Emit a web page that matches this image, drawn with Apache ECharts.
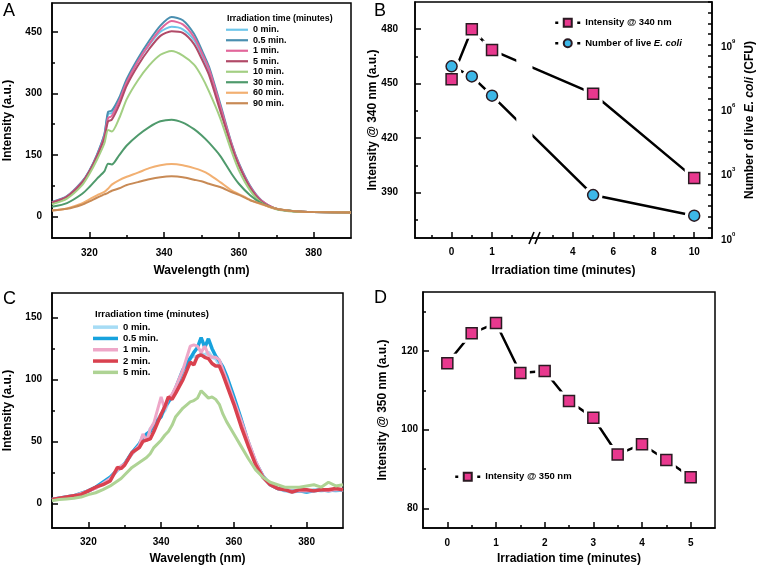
<!DOCTYPE html>
<html>
<head>
<meta charset="utf-8">
<script src="https://cdn.jsdelivr.net/npm/echarts@6/dist/echarts.min.js"></script>
<style>html,body{margin:0;padding:0;background:#fff}#main{width:757px;height:568px}</style>
</head>
<body>
<div id="main"></div>
<script>
// panel A: emission spectra, 340 nm region
var aWave = [310,314,318,320,322,324,325,326,328,330,333,336,339,342,345,348,350,352,355,358,360,363,366,370,375,380,390];
var aNames = ['0 min.','0.5 min.','1 min.','5 min.','10 min.','30 min.','60 min.','90 min.'];
var aColors = ['#6ec6ea','#4a8fb0','#e2679b','#b14a68','#a3cf83','#4f9a6c','#f2b072','#c88a55'];
var a0  = [35,49,83,112,150,200,250,252,285,331,378,418,450,462,456,430,395,355,265,176,127,72,38,19,13,11,10];
var a05 = [36,50,85,112,150,200,255,258,290,335,385,428,465,486,478,445,407,365,275,180,130,75,40,19,13,11,10];
var a1  = [35,49,83,110,147,195,240,245,282,327,378,420,456,476,468,437,400,360,270,178,128,73,39,19,13,11,10];
var a5  = [34,48,82,110,146,190,232,236,272,319,368,408,440,451,447,420,385,345,258,172,124,70,37,19,13,11,10];
var a10 = [30,44,76,104,138,178,211,207,240,286,332,368,394,403,392,370,342,305,240,160,113,64,34,18,12,11,10];
var a30 = [24,33,55,72,92,110,129,127,150,173,198,218,232,236,229,213,198,180,148,105,80,52,33,19,13,11,10];
var a60 = [15,20,32,42,52,60,68,78,89,97,107,118,125,128,125,118,112,103,84,64,55,41,30,19,13,11,10];
var a90 = [15,19,29,37,46,54,58,63,69,77,84,91,96,98,96,90,86,80,72,60,53,40,31,19,13,11,10];
var aSeries = [a0,a05,a1,a5,a10,a30,a60,a90];

// panel B: intensity @ 340 nm and live E. coli
var bTime = [0,0.5,1,5,10];
var bIntensity = [452.5,480,468.5,444.5,398];
var bEcoli = [1e8,3.4e7,4.3e6,1.0e2,11];

// panel C: emission spectra, 350 nm region
var cWave = [310,312,314,316,318,320,322,324,326,328,329,330,332,334,335,336,337,338,340,341,342,343,344,346,348,349,350,351,352,353,354,355,356,357,358,360,362,364,366,368,370,372,374,376,378,380,382,384,386,388,390];
var cNames = ['0 min.','0.5 min.','1 min.','2 min.','5 min.'];
var cColors = ['#a6dcf5','#17a2dd','#eea7c8','#d9414f','#aed394'];
var cWidths = [3.5,3.5,3,3.5,3];
var c0  = [3,4,5,6,8,10,13,16,20,27,30,32,40,47,55,52,60,63,72,75,82,85,92,104,118,119,118,121,120,122,118,117,112,105,100,82,66,48,32,21,15,12,10,9,10,9,11,10,11,10,11];
var c05 = [3,4,5,6,8,10,13,17,21,27,29,32,41,48,53,56,58,64,70,78,82,87,93,108,117,122,126,134,126,133,125,119,115,110,103,86,68,49,33,22,15,12,11,10,10,9,10,11,10,11,11];
var c1  = [3,4,5,6,8,10,12,16,20,27,30,32,40,47,56,50,60,65,86,76,85,88,94,108,127,128,127,122,127,120,118,118,116,108,100,83,67,50,34,22,15,12,11,10,10,10,10,11,10,11,11];
var c2  = [3,4,5,6,7,10,13,15,18,29,28,31,41,45,50,51,52,58,72,78,86,84,89,100,114,112,119,120,118,117,113,111,111,104,96,80,62,46,31,21,15,12,11,9,11,11,10,11,11,12,11];
var c5  = [2,3,3.5,4,5,7,8.5,11,14,18,20,23,29,33,35,37,40,45,51,55,58,63,70,77,82,83,85,91,88,85,86,84,80,72,66,56,46,36,27,21,17,15,13,13,13,14,15,13,17,14,15];
var cSeries = [c0,c05,c1,c2,c5];

// panel D: intensity @ 350 nm
var dTime = [0,0.5,1,1.5,2,2.5,3,3.5,4,4.5,5];
var dIntensity = [116.9,124.5,127.1,114.4,114.9,107.3,103.0,93.7,96.3,92.3,87.9];

var F = '"Liberation Sans", Arial, sans-serif';
var myChart = echarts.init(document.getElementById('main'));

// broken time axis of panel B: 0-1 min stretched, 4-10 min compressed
function bPos(t) { return t <= 1 ? t * 2 : t + 2; }
function bTimeOf(u) { return u <= 2 ? u / 2 : u - 2; }

function zip(xs, ys) { return xs.map(function (x, i) { return [x, ys[i]]; }); }

function mainAxis(grid, min, max, majors, name, nameGap, margin, extra) {
    var ax = {
        type: 'value', gridIndex: grid, min: min, max: max,
        axisLine: { show: true, onZero: false, lineStyle: { color: '#000', width: 1.5 } },
        axisTick: { inside: true, length: 6, customValues: majors, lineStyle: { color: '#000', width: 1.5 } },
        axisLabel: { customValues: majors, color: '#000', fontSize: 10, fontWeight: 'bold', fontFamily: F, margin: margin },
        splitLine: { show: false },
        name: name, nameLocation: 'middle', nameGap: nameGap, nameMoveOverlap: false,
        nameTextStyle: { color: '#000', fontSize: 12, fontWeight: 'bold', fontFamily: F }
    };
    for (var k in extra) ax[k] = extra[k];
    return ax;
}
function minorAxis(grid, min, max, minors, position) {
    return {
        type: 'value', gridIndex: grid, min: min, max: max, position: position,
        axisLine: { show: false, onZero: false },
        axisTick: { inside: true, length: 3, customValues: minors, lineStyle: { color: '#000', width: 1.5 } },
        axisLabel: { show: false },
        splitLine: { show: false }
    };
}

var bUMin = -1.81, bUMax = 12.88;
var gridStyle = { show: true, borderColor: '#000', borderWidth: 1.5, backgroundColor: 'transparent' };

var xAxes = [
    mainAxis(0, 310, 390, [320,340,360,380], 'Wavelength (nm)', 27, 10, { position: 'bottom' }),
    minorAxis(0, 310, 390, [330,350,370], 'bottom'),
    mainAxis(1, bUMin, bUMax, [0,2,6,8,10,12], 'Irradiation time (minutes)', 27, 9, { position: 'bottom' }),
    minorAxis(1, bUMin, bUMax, [-1,1,3,5,7,9,11], 'bottom'),
    mainAxis(2, 310, 390, [320,340,360,380], 'Wavelength (nm)', 25, 9, { position: 'bottom' }),
    minorAxis(2, 310, 390, [330,350,370], 'bottom'),
    mainAxis(3, -0.5, 5.5, [0,1,2,3,4,5], 'Irradiation time (minutes)', 25, 10, { position: 'bottom' }),
    minorAxis(3, -0.5, 5.5, [0.5,1.5,2.5,3.5,4.5], 'bottom')
];
xAxes[2].axisLabel.formatter = function (u) { return String(bTimeOf(u)); };

var logTicks = [];
for (var e = 0; e <= 11; e += 0.5) logTicks.push(Math.pow(10, e));

var yAxes = [
    mainAxis(0, -52, 520, [0,150,300,450], 'Intensity (a.u.)', 38, 10, { position: 'left' }),
    minorAxis(0, -52, 520, [75,225,375], 'left'),
    mainAxis(1, 365, 495, [390,420,450,480], 'Intensity @ 340 nm (a.u.)', 36, 17, { position: 'left' }),
    minorAxis(1, 365, 495, [375,405,435,465], 'left'),
    {
        type: 'log', gridIndex: 1, min: 1, max: 1e11, position: 'right', logBase: 10,
        axisLine: { show: true, onZero: false, lineStyle: { color: '#000', width: 1.5 } },
        axisTick: { inside: true, length: 4, customValues: logTicks, lineStyle: { color: '#000', width: 1.5 } },
        axisLabel: {
            customValues: [1,1e3,1e6,1e9], margin: 9, color: '#000',
            formatter: function (v) { return '{n|10}{s|' + Math.round(Math.log10(v)) + '}'; },
            rich: {
                n: { fontSize: 10, fontWeight: 'bold', fontFamily: F, color: '#000', lineHeight: 14, verticalAlign: 'bottom' },
                s: { fontSize: 6, fontWeight: 'bold', fontFamily: F, color: '#000', lineHeight: 14, verticalAlign: 'top' }
            }
        },
        splitLine: { show: false },
        name: 'Number of live {i|E. coli} (CFU)', nameLocation: 'middle', nameGap: 32, nameRotate: 90,
        nameMoveOverlap: false,
        nameTextStyle: {
            color: '#000', fontSize: 12, fontWeight: 'bold', fontFamily: F,
            rich: { i: { fontSize: 12, fontWeight: 'bold', fontStyle: 'italic', fontFamily: F, color: '#000' } }
        }
    },
    mainAxis(2, -20, 170, [0,50,100,150], 'Intensity (a.u.)', 38, 10, { position: 'left' }),
    minorAxis(2, -20, 170, [25,75,125], 'left'),
    mainAxis(3, 75, 135, [80,100,120], 'Intensity @ 350 nm (a.u.)', 34, 5, { position: 'left' }),
    minorAxis(3, 75, 135, [90,110,130], 'left')
];

var series = [];
aNames.forEach(function (n, i) {
    series.push({
        name: n, type: 'line', xAxisIndex: 0, yAxisIndex: 0, data: zip(aWave, aSeries[i]),
        symbol: 'none', smooth: 0.25, lineStyle: { width: 2, color: aColors[i] }, itemStyle: { color: aColors[i] }, z: 2
    });
});
cNames.forEach(function (n, i) {
    series.push({
        name: 'C:' + n, type: 'line', xAxisIndex: 4, yAxisIndex: 5, data: zip(cWave, cSeries[i]),
        symbol: 'none', lineStyle: { width: cWidths[i], color: cColors[i] }, itemStyle: { color: cColors[i] }, z: 2
    });
});

// line + white halo + marker, so the line stops short of each marker
function markerSeries(name, xi, yi, data, symbol, color, zTop) {
    return [
        { name: name + ' line', type: 'line', xAxisIndex: xi, yAxisIndex: yi, data: data, symbol: 'none',
          lineStyle: { color: '#000', width: 2.5 }, z: 2, silent: true },
        { name: name + ' halo', type: 'scatter', xAxisIndex: xi, yAxisIndex: yi, data: data, symbol: symbol,
          symbolSize: 19, itemStyle: { color: '#fff', opacity: 1 }, z: 3, silent: true },
        { name: name, type: 'line', xAxisIndex: xi, yAxisIndex: yi, data: data, symbol: symbol, symbolSize: 11,
          showSymbol: true, lineStyle: { width: 0, color: '#000' },
          itemStyle: { color: color, borderColor: '#2a1a22', borderWidth: 1.5, opacity: 1 }, z: zTop }
    ];
}
var bIntData = bTime.map(function (t, i) { return [bPos(t), bIntensity[i]]; });
var bEcoData = bTime.map(function (t, i) { return [bPos(t), bEcoli[i]]; });
var sInt = markerSeries('Intensity @ 340 nm', 2, 2, bIntData, 'rect', '#e8388e', 4);
var sEco = markerSeries('Number of live E. coli', 2, 4, bEcoData, 'circle', '#3db7e8', 5);
var sD = markerSeries('Intensity @ 350 nm', 6, 7, zip(dTime, dIntensity), 'rect', '#e8388e', 4);
series.push(sInt[0], sEco[0], sInt[1], sEco[1], sInt[2], sEco[2], sD[0], sD[1], sD[2]);

var legendText = { color: '#000', fontWeight: 'bold', fontFamily: F };
var markerLegendLine = { color: '#000', width: 2.5, type: [3, 19], opacity: 1 };

var option = {
    animation: false,
    backgroundColor: '#fff',
    title: [
        { text: 'A', left: 3, top: 2, padding: 0, textStyle: { fontSize: 18, fontWeight: 'normal', fontFamily: F, color: '#000' } },
        { text: 'B', left: 374, top: 2, padding: 0, textStyle: { fontSize: 18, fontWeight: 'normal', fontFamily: F, color: '#000' } },
        { text: 'C', left: 3, top: 290, padding: 0, textStyle: { fontSize: 18, fontWeight: 'normal', fontFamily: F, color: '#000' } },
        { text: 'D', left: 374, top: 289, padding: 0, textStyle: { fontSize: 18, fontWeight: 'normal', fontFamily: F, color: '#000' } },
        { text: 'Irradiation time (minutes)', left: 227, top: 14, padding: 0, textStyle: { fontSize: 8.8, fontWeight: 'bold', fontFamily: F, color: '#000' } },
        { text: 'Irradiation time (minutes)', left: 95, top: 309, padding: 0, textStyle: { fontSize: 9.5, fontWeight: 'bold', fontFamily: F, color: '#000' } }
    ],
    grid: [
        Object.assign({ left: 52, top: 3, width: 299, height: 235 }, gridStyle),
        Object.assign({ left: 415, top: 2, width: 298, height: 236 }, gridStyle),
        Object.assign({ left: 52, top: 293, width: 291, height: 235 }, gridStyle),
        Object.assign({ left: 423, top: 292, width: 292, height: 236 }, gridStyle)
    ],
    legend: [
        { data: aNames, orient: 'vertical', left: 226, top: 24.5, padding: 0, itemGap: 0,
          itemWidth: 22, itemHeight: 2.2, icon: 'rect',
          textStyle: Object.assign({ fontSize: 9, lineHeight: 10.5 }, legendText) },
        { data: cNames.map(function (n) { return 'C:' + n; }), orient: 'vertical', left: 93, top: 321.5, padding: 0, itemGap: 0,
          itemWidth: 25, itemHeight: 3.5, icon: 'rect',
          formatter: function (n) { return n.slice(2); },
          textStyle: Object.assign({ fontSize: 9.5, lineHeight: 11.3 }, legendText) },
        { data: ['Intensity @ 340 nm', 'Number of live E. coli'], orient: 'vertical', left: 554, top: 17.7, padding: 0,
          itemGap: 10.6, itemWidth: 25, itemHeight: 10, lineStyle: markerLegendLine,
          formatter: function (n) { return n === 'Number of live E. coli' ? 'Number of live {i|E. coli}' : n; },
          textStyle: Object.assign({ fontSize: 9.5, rich: { i: { fontSize: 9.5, fontStyle: 'italic', fontWeight: 'bold', fontFamily: F, color: '#000' } } }, legendText) },
        { data: ['Intensity @ 350 nm'], orient: 'vertical', left: 454, top: 471.7, padding: 0,
          itemWidth: 25, itemHeight: 10, lineStyle: markerLegendLine,
          textStyle: Object.assign({ fontSize: 9.5 }, legendText) }
    ],
    xAxis: xAxes,
    yAxis: yAxes,
    series: series
};

myChart.setOption(option);

// axis break on panel B: "//" on the time axis, and gap in the lines
var breakU = 4.1, gapFrom = 3.2, gapTo = 4.0;
var bx = myChart.convertToPixel({ xAxisIndex: 2 }, breakU);
var gx0 = myChart.convertToPixel({ xAxisIndex: 2 }, gapFrom);
var gx1 = myChart.convertToPixel({ xAxisIndex: 2 }, gapTo);
var yb = myChart.convertToPixel({ yAxisIndex: 2 }, 365);
var yt = myChart.convertToPixel({ yAxisIndex: 2 }, 495);
myChart.setOption({
    graphic: [
        { type: 'rect', z: 3, silent: true, shape: { x: gx0, y: yt + 20, width: gx1 - gx0, height: yb - yt - 40 }, style: { fill: '#fff' } },
        { type: 'line', z: 6, silent: true, shape: { x1: bx - 5.5, y1: yb + 6, x2: bx - 0.5, y2: yb - 6 }, style: { stroke: '#000', lineWidth: 1.6 } },
        { type: 'line', z: 6, silent: true, shape: { x1: bx + 0.5, y1: yb + 6, x2: bx + 5.5, y2: yb - 6 }, style: { stroke: '#000', lineWidth: 1.6 } }
    ]
});
</script>
</body>
</html>
